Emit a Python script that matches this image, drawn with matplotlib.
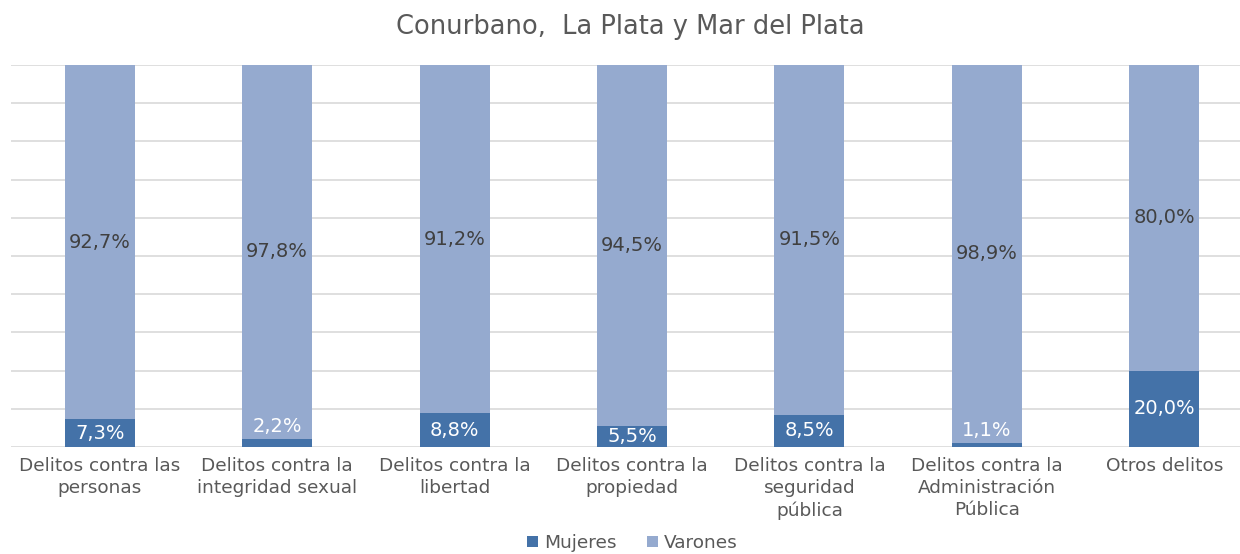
import numpy as np
import matplotlib.pyplot as plt

categorias = ["Delitos contra las\npersonas", "Delitos contra la\nintegridad sexual",
              "Delitos contra la\nlibertad", "Delitos contra la\npropiedad",
              "Delitos contra la\nseguridad\npública", "Delitos contra la\nAdministración\nPública",
              "Otros delitos"]
mujeres = [7.3, 2.2, 8.8, 5.5, 8.5, 1.1, 20.0]
varones = [92.7, 97.8, 91.2, 94.5, 91.5, 98.9, 80.0]

c_muj = "#4472a8"
c_var = "#95aacf"
gris = "#595959"

fig = plt.figure(figsize=(12.4, 5.54), dpi=100)
ax = fig.add_axes([11 / 1240, 1 - 447 / 554, 1242 / 1240, 382 / 554])

x = np.arange(len(categorias))
ancho = 0.395
b1 = ax.bar(x, mujeres, ancho, color=c_muj, label="Mujeres", zorder=2)
b2 = ax.bar(x, varones, ancho, bottom=mujeres, color=c_var, label="Varones", zorder=2)

ax.set_xlim(-0.5, len(categorias) - 0.5)
ax.set_ylim(0, 100)
ax.set_yticks(np.arange(0, 101, 10))
ax.yaxis.grid(True, color="#d9d9d9", linewidth=1.2, zorder=0)
ax.tick_params(axis="y", left=False, labelleft=False)
ax.tick_params(axis="x", bottom=False, pad=4)
ax.set_xticks(x)
ax.set_xticklabels(categorias, fontsize=13.3, color=gris, linespacing=1.28)
for s in ax.spines.values():
    s.set_visible(False)

def fmt(v):
    return f"{v:.1f}%".replace(".", ",")

for xi, m, v in zip(x, mujeres, varones):
    if m < 3:
        ax.annotate(fmt(m), (xi, m), xytext=(0, 9), textcoords="offset points",
                    ha="center", va="center", color="white", fontsize=14)
    else:
        ax.text(xi, m / 2, fmt(m), ha="center", va="center", color="white", fontsize=14)
    ax.text(xi, m + v / 2, fmt(v), ha="center", va="center", color="#404040", fontsize=14)

fig.text(0.508, 1 - 27 / 554, "Conurbano,  La Plata y Mar del Plata", ha="center", va="center",
         fontsize=18.5, color=gris)

fig.legend(handles=[b1, b2], loc="center", bbox_to_anchor=(0.51, 1 - 543 / 554), ncol=2,
           frameon=False, fontsize=13.3, labelcolor=gris, handlelength=0.6, handleheight=0.6,
           handletextpad=0.35, columnspacing=1.6)

fig.savefig("out.png", dpi=100)
